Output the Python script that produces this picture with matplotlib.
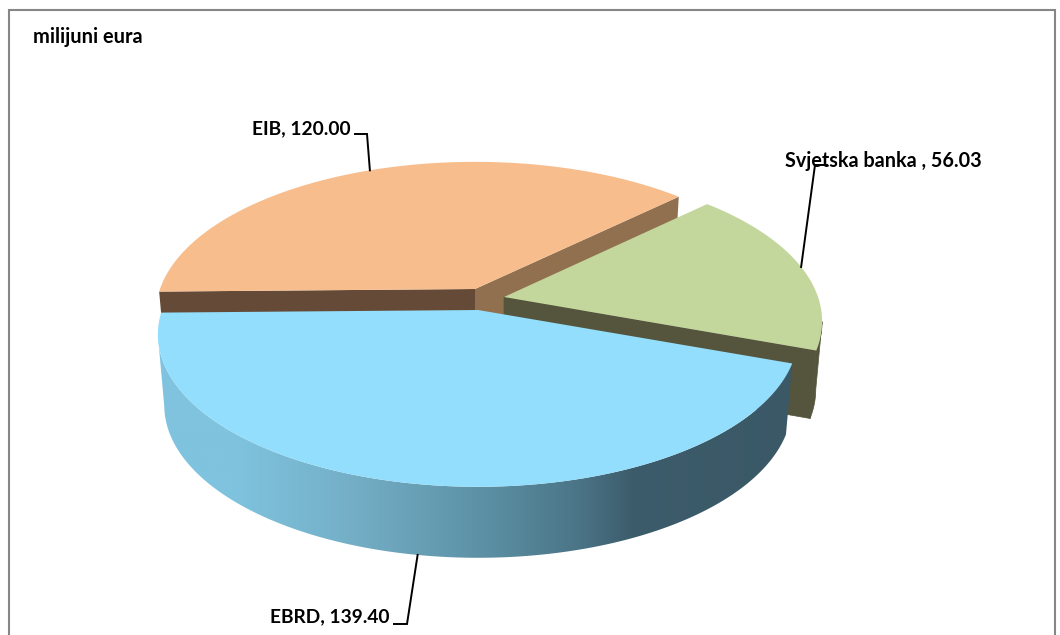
import numpy as np
import matplotlib
matplotlib.use("Agg")
import matplotlib.pyplot as plt
from matplotlib.patches import Polygon, Rectangle
from matplotlib.colors import LinearSegmentedColormap

# data
nazivi = ["EBRD", "Svjetska banka ", "EIB"]
vrijednosti = [139.40, 56.03, 120.00]
naslov = "milijuni eura"

# colours per slice
boja_vrh = ["#93DEFC", "#C3D69B", "#F8BD8C"]
boja_zid = ["#7FC3DE", "#54553C", "#654B37"]

# apex of each slice in pixels (exploded) and its radii
vrhovi = [(478, 310), (504, 297), (475, 289)]
rx_lista = [316.0, 314.0, 315.0]
ry_lista = [148.5, 148.5, 147.5]
dubine = [71.0, 68.0, 71.0]
poc_kut = 181.0
k = 0.16
sx = 0.98

# label: text pos, elbow x, y of the elbow
lab_x = [389, 785, 351]
lab_y = [617, 161, 129]
lab_ha = ["right", "left", "right"]
lab_vel = [13.8, 14.2, 13.8]
lakat_x = [407, 815, 367]
lakat_kraj = [394, 827, 355]
lakat_y = [624, 165, 134]

plt.rcParams["font.family"] = ["Lato", "DejaVu Sans"]
fig = plt.figure(figsize=(10.6, 6.35), dpi=100)
ax = fig.add_axes([0, 0, 1, 1])


def tocka(i, t, dolje=False):
    apex = vrhovi[i]
    t = np.radians(t)
    w = 1 + k * np.sin(t)
    f = sx if dolje else 1.0
    x = apex[0] + f * rx_lista[i] * np.cos(t) / w
    y = apex[1] - ry_lista[i] * np.sin(t) / w
    if dolje:
        y = y + dubine[i]
    return np.column_stack([x, y]) if np.ndim(t) else np.array([x, y])


ax.add_patch(Rectangle((9, 10), 1046, 640, fc="white", ec="#868686", lw=1.5, zorder=0))

ukupno = sum(vrijednosti)
kutovi = [poc_kut]
for v in vrijednosti:
    kutovi.append(kutovi[-1] + v / ukupno * 360)

# EIB cut faces (only ones seen from behind the others)
t_e = np.linspace(kutovi[2], kutovi[3], 200)
rub_e = tocka(2, t_e)
rub_e_d = tocka(2, t_e, True)
a_e = np.array(vrhovi[2], dtype=float)
a_e_d = a_e + [0, dubine[2]]
ax.add_patch(Polygon([a_e, rub_e[0], rub_e_d[0], a_e_d], fc="#917050", ec="none", zorder=1))
ax.add_patch(Polygon([a_e, rub_e[-1], rub_e_d[-1], a_e_d], fc="#654B37", ec="none", zorder=2))
ax.add_patch(Polygon(np.vstack([a_e, rub_e]), fc=boja_vrh[2], ec="none", zorder=3))

# Svjetska banka
t_s = np.linspace(kutovi[1], kutovi[2], 200)
rub_s = tocka(1, t_s)
rub_s_d = tocka(1, t_s, True)
a_s = np.array(vrhovi[1], dtype=float)
a_s_d = a_s + [0, dubine[1]]
ax.add_patch(Polygon([a_s, rub_s[0], rub_s_d[0], a_s_d], fc=boja_zid[1], ec=boja_zid[1], lw=0.5, zorder=4))
vid = np.sin(np.radians(t_s)) < -k
ax.add_patch(Polygon(np.vstack([rub_s[vid], rub_s_d[vid][::-1]]), fc=boja_zid[1], ec=boja_zid[1], lw=0.5, zorder=5))
ax.add_patch(Polygon(np.vstack([a_s, rub_s]), fc=boja_vrh[1], ec="none", zorder=6))

# EBRD, wall has the gradient
t_b = np.linspace(kutovi[0], kutovi[1], 300)
rub_b = tocka(0, t_b)
rub_b_d = tocka(0, t_b, True)
vid = np.sin(np.radians(t_b)) < -k
cm = LinearSegmentedColormap.from_list("zid", [
    (0.0, "#7FC3DE"), (0.12, "#7FC3DE"), (0.3, "#74AFC7"),
    (0.5, "#5D92A6"), (0.66, "#4A7486"), (0.74, "#3D5C6B"), (1.0, "#3A5866")])
grad = np.linspace(0, 1, 256).reshape(1, -1)
slika = ax.imshow(grad, cmap=cm, extent=(157, 800, 565, 300), aspect="auto", zorder=7)
pp = Polygon(np.vstack([rub_b[vid], rub_b_d[vid][::-1]]), fc="none", ec="none", transform=ax.transData)
ax.add_patch(pp)
slika.set_clip_path(pp)
a_b = np.array(vrhovi[0], dtype=float)
ax.add_patch(Polygon(np.vstack([a_b, rub_b]), fc=boja_vrh[0], ec="none", zorder=8))

# leader lines and labels
for i in range(3):
    sred = (kutovi[i] + kutovi[i + 1]) / 2
    sid = np.sin(np.radians(sred))
    p = tocka(i, sred, sid < -0.5)
    ax.plot([lakat_kraj[i], lakat_x[i], p[0]], [lakat_y[i], lakat_y[i], p[1]],
            color="black", lw=1.4, zorder=20, solid_joinstyle="miter")
    ax.text(lab_x[i], lab_y[i], "%s, %.2f" % (nazivi[i], vrijednosti[i]), ha=lab_ha[i], va="center",
            fontsize=lab_vel[i], fontweight="bold", color="black", zorder=21)

ax.text(33, 37, naslov, ha="left", va="center", fontsize=14.4, fontweight="bold", color="black", zorder=21)

ax.set_xlim(0, 1060)
ax.set_ylim(635, 0)
ax.axis("off")
fig.savefig("out.png", dpi=100, facecolor="white")
